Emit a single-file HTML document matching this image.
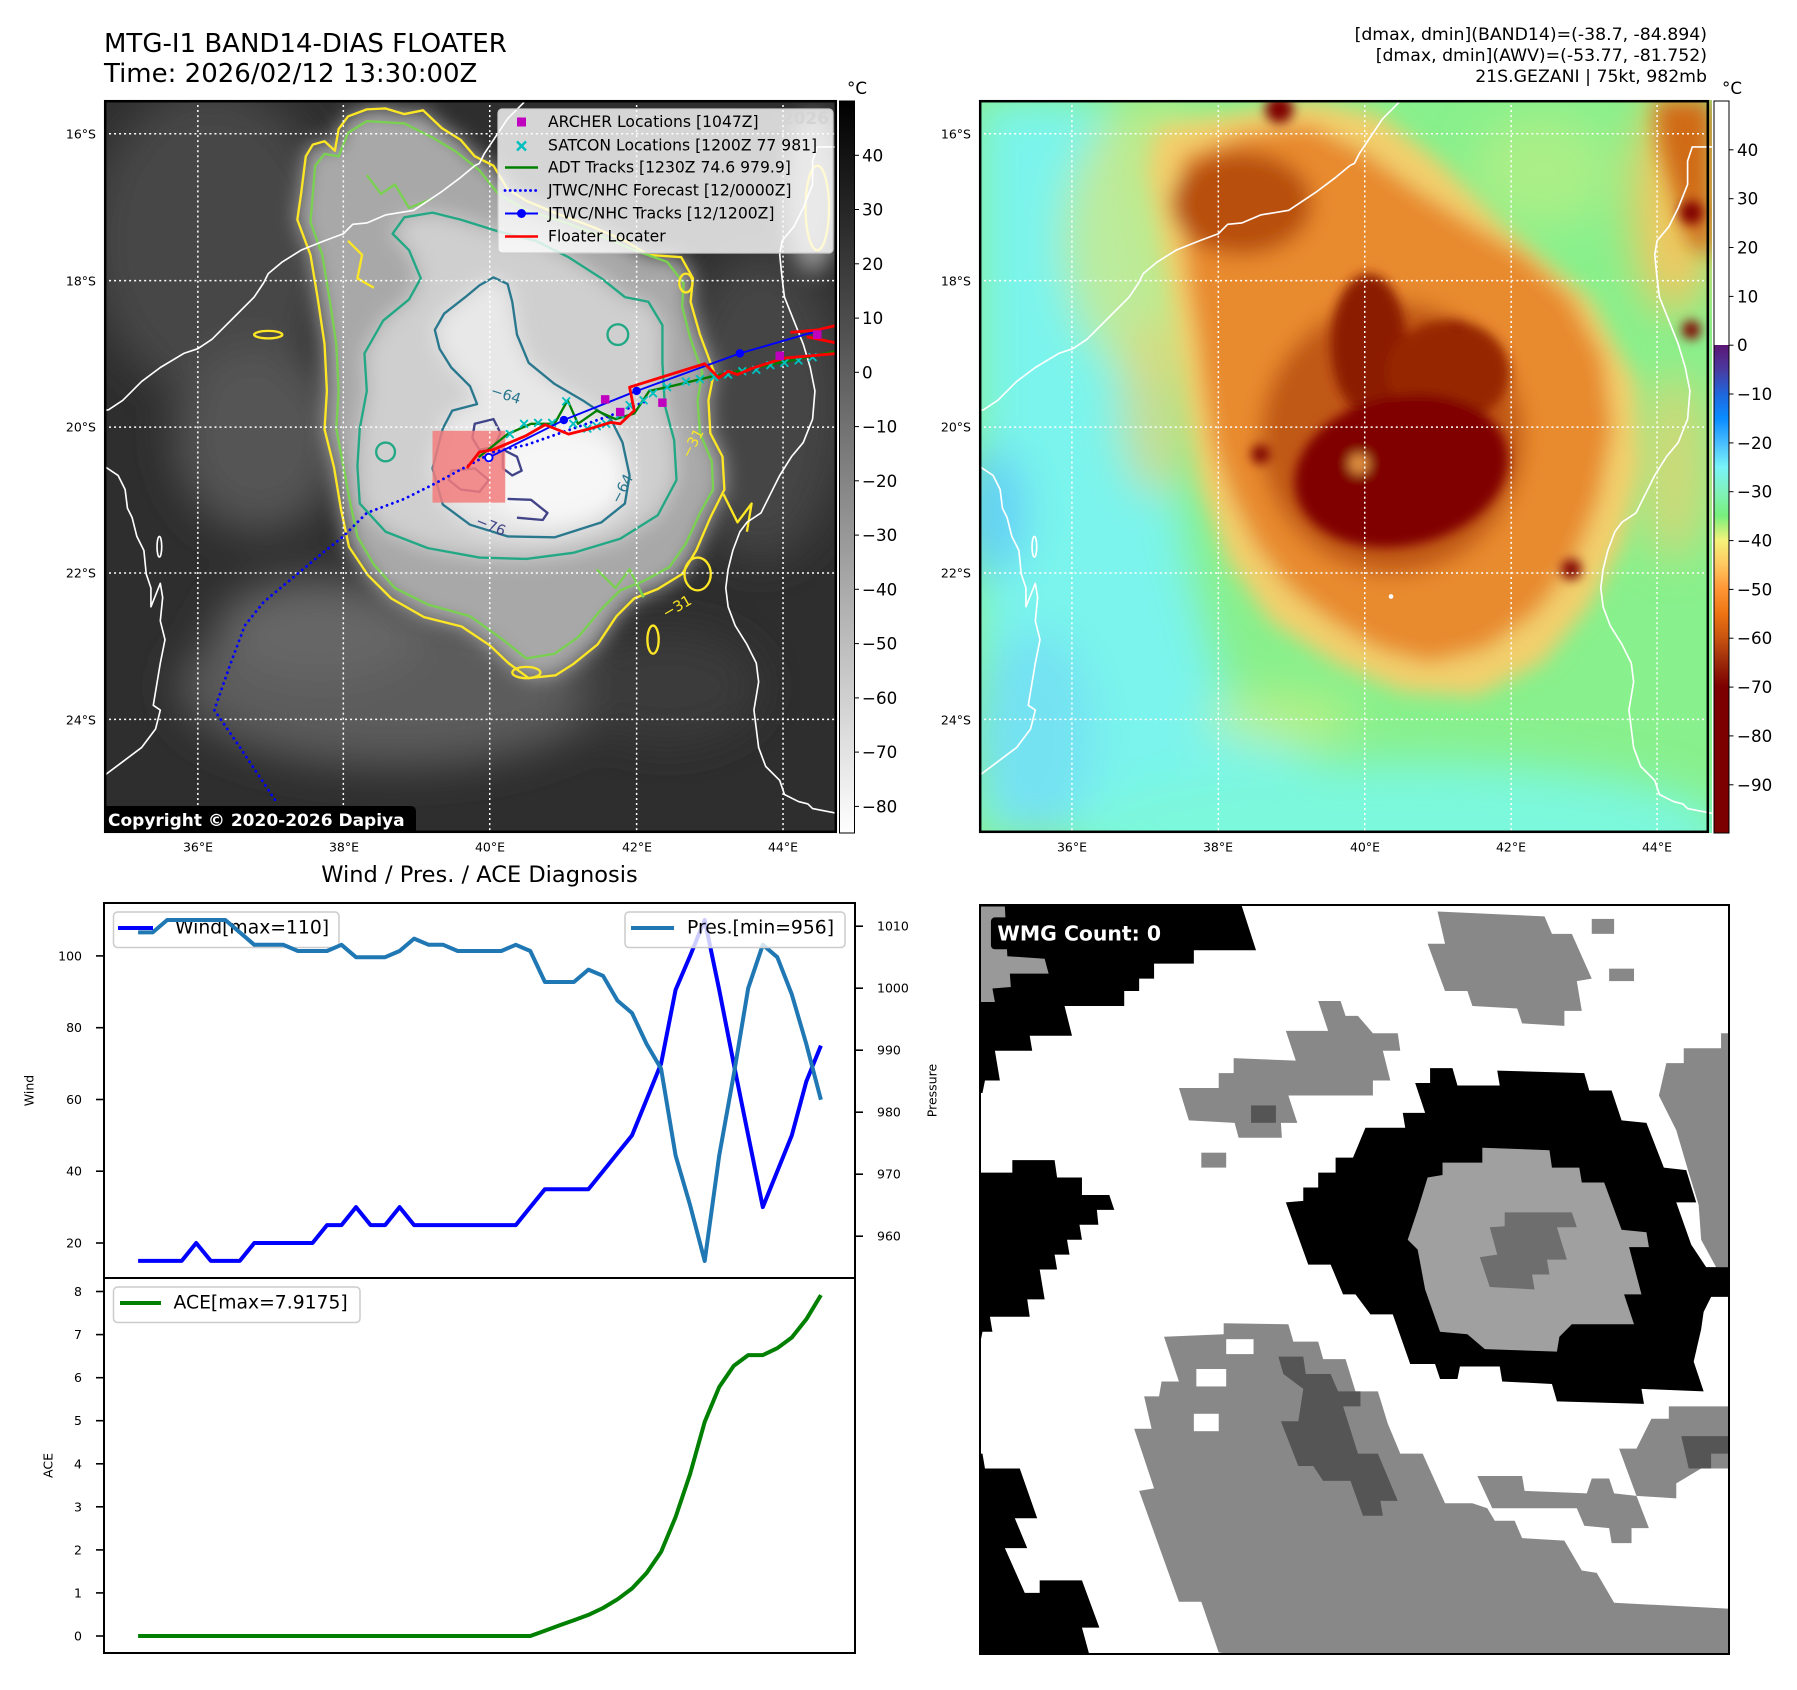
<!DOCTYPE html>
<html><head><meta charset="utf-8"><style>
html,body{margin:0;padding:0;background:#fff;}
svg{display:block;}
</style></head><body>
<svg width="1797" height="1690" viewBox="0 0 1797 1690" xmlns="http://www.w3.org/2000/svg" font-family="'DejaVu Sans','Liberation Sans',sans-serif">
<rect width="1797" height="1690" fill="#fff"/>

<!-- Titles -->
<text x="104" y="52" font-size="26">MTG-I1 BAND14-DIAS FLOATER</text>
<text x="104" y="82" font-size="26">Time: 2026/02/12 13:30:00Z</text>
<g font-size="17.3" text-anchor="end">
<text x="1707" y="40">[dmax, dmin](BAND14)=(-38.7, -84.894)</text>
<text x="1707" y="61">[dmax, dmin](AWV)=(-53.77, -81.752)</text>
<text x="1707" y="82">21S.GEZANI | 75kt, 982mb</text>
</g>

<!-- ================= LEFT MAP ================= -->
<svg x="104" y="100" width="733" height="733" viewBox="0 0 1562 1562" preserveAspectRatio="none">
<defs>
<filter id="fa" x="-50%" y="-50%" width="200%" height="200%"><feGaussianBlur stdDeviation="45"/></filter>
<filter id="fb" x="-50%" y="-50%" width="200%" height="200%"><feGaussianBlur stdDeviation="22"/></filter>
<filter id="fc" x="-50%" y="-50%" width="200%" height="200%"><feGaussianBlur stdDeviation="10"/></filter>
</defs>
<rect width="1562" height="1562" fill="#2e2e2e"/>
<g filter="url(#fa)">
<ellipse cx="230" cy="300" rx="260" ry="330" fill="#474747"/>
<ellipse cx="330" cy="720" rx="180" ry="200" fill="#555"/>
<ellipse cx="620" cy="1250" rx="460" ry="170" fill="#5c5c5c"/>
<ellipse cx="460" cy="1130" rx="220" ry="110" fill="#666"/>
<ellipse cx="1400" cy="650" rx="180" ry="330" fill="#444"/>
<ellipse cx="1200" cy="1250" rx="200" ry="120" fill="#3a3a3a"/>
</g>
<g filter="url(#fb)">
<polygon fill="#a8a8a8" points="430,120 445,95 470,88 492,108 500,62 520,35 560,20 600,18 640,30 680,22 720,60 760,85 790,120 830,140 860,190 900,215 960,240 1040,270 1110,300 1160,330 1230,335 1255,380 1250,430 1270,500 1300,580 1288,640 1292,710 1318,760 1322,830 1292,890 1262,960 1232,1010 1180,1042 1130,1062 1092,1100 1052,1160 1000,1202 962,1226 905,1232 862,1200 822,1162 762,1122 682,1102 612,1062 562,1012 522,952 505,872 490,782 470,702 475,620 470,520 455,420 440,330 412,255 420,200"/>
<polygon fill="#cfcfcf" points="540,780 545,860 600,920 690,955 800,975 900,978 1000,965 1100,935 1180,885 1220,810 1215,725 1195,650 1190,560 1190,480 1160,430 1110,420 1060,380 990,335 920,300 840,280 760,255 700,240 640,250 615,285 650,320 675,380 650,425 595,470 555,540 560,620 545,700"/>
<polygon fill="#e8e8e8" points="830,378 860,392 870,430 880,500 905,560 960,605 1020,640 1080,680 1105,730 1120,800 1110,860 1060,900 960,932 860,930 780,905 722,862 700,785 722,700 742,662 795,648 780,610 740,570 715,530 705,490 725,455 770,420 800,395"/>
<ellipse cx="960" cy="800" rx="150" ry="100" fill="#f7f7f7"/>
<ellipse cx="1510" cy="200" rx="60" ry="170" fill="#909090"/>
</g>
<!-- contours -->
<g fill="none" stroke-width="5" stroke-linejoin="round">
<polygon stroke="#fde725" points="430,120 445,95 470,88 492,108 500,62 520,35 560,20 600,18 640,30 680,22 720,60 760,85 790,120 830,140 860,190 900,215 960,240 1040,270 1110,300 1160,330 1230,335 1255,380 1250,430 1270,500 1300,580 1288,640 1292,710 1318,760 1322,830 1292,890 1262,960 1232,1010 1180,1042 1130,1062 1092,1100 1052,1160 1000,1202 962,1226 905,1232 862,1200 822,1162 762,1122 682,1102 612,1062 562,1012 522,952 505,872 490,782 470,702 475,620 470,520 455,420 440,330 412,255 420,200"/>
<polygon stroke="#7ad151" points="450,140 470,115 500,120 520,70 560,45 640,50 700,80 750,110 800,150 840,200 900,235 980,260 1060,290 1130,320 1200,345 1235,390 1232,440 1250,510 1275,580 1265,640 1270,710 1295,770 1298,830 1270,880 1240,945 1205,995 1150,1025 1100,1045 1060,1085 1010,1145 960,1180 900,1190 850,1150 780,1100 690,1075 620,1040 575,990 540,930 525,860 510,780 495,700 500,620 495,520 480,420 465,330 440,260 445,200"/>
<polygon stroke="#22a884" points="540,780 545,860 600,920 690,955 800,975 900,978 1000,965 1100,935 1180,885 1220,810 1215,725 1195,650 1190,560 1190,480 1160,430 1110,420 1060,380 990,335 920,300 840,280 760,255 700,240 640,250 615,285 650,320 675,380 650,425 595,470 555,540 560,620 545,700"/>
<polygon stroke="#2a788e" points="830,378 860,392 870,430 880,500 905,560 960,605 1020,640 1080,680 1105,730 1120,800 1110,860 1060,900 960,932 860,930 780,905 722,862 700,785 722,700 742,662 795,648 780,610 740,570 715,530 705,490 725,455 770,420 800,395"/>
<g stroke="#414487">
<polygon points="790,690 830,680 845,710 830,740 800,745 785,720"/>
<polygon points="740,790 790,785 820,810 800,835 760,830 735,810"/>
<polygon points="850,745 880,760 890,790 870,800 850,785"/>
<polyline points="860,850 910,852 945,880 935,895 880,890"/>
</g>
<circle cx="600" cy="750" r="20" stroke="#22a884"/>
<circle cx="1095" cy="500" r="22" stroke="#22a884"/>
<ellipse cx="1265" cy="1010" rx="28" ry="35" stroke="#fde725"/>
<ellipse cx="1520" cy="230" rx="25" ry="90" stroke="#fde725"/>
<ellipse cx="1240" cy="390" rx="14" ry="20" stroke="#fde725"/>
<ellipse cx="350" cy="500" rx="30" ry="8" stroke="#fde725"/>
<ellipse cx="900" cy="1220" rx="30" ry="12" stroke="#fde725"/>
<ellipse cx="1170" cy="1150" rx="12" ry="30" stroke="#fde725"/>
<polyline stroke="#fde725" points="1320,840 1350,900 1380,860 1370,920"/>
<polyline stroke="#7ad151" points="560,160 590,200 620,180 650,230 700,210"/>
<polyline stroke="#fde725" points="520,300 550,330 540,380 575,400"/>
<polyline stroke="#7ad151" points="1050,1000 1090,1040 1120,1000 1150,1060"/>
</g>
<g font-size="31">
<text x="822" y="628" fill="#2a788e" transform="rotate(18 822 628)">−64</text>
<text x="1098" y="862" fill="#2a788e" transform="rotate(-62 1098 862)">−64</text>
<text x="790" y="905" fill="#414487" transform="rotate(22 790 905)">−76</text>
<text x="1248" y="765" fill="#fde725" transform="rotate(-62 1248 765)">−31</text>
<text x="1198" y="1105" fill="#fde725" transform="rotate(-30 1198 1105)">−31</text>
</g>
<rect x="700" y="705" width="155" height="153" fill="#f27d7d" opacity="0.85"/>
<!-- coastlines -->
<g fill="none" stroke="#fff" stroke-width="3.5" stroke-linejoin="round">
<polyline points="895,5 860,40 840,70 810,115 800,135 790,140 760,165 720,195 690,215 660,235 600,245 560,262 530,265 510,285 470,300 420,320 380,345 350,370 340,390 320,420 280,460 250,490 230,510 200,530 170,540 120,570 80,600 40,640 10,660 0,662"/>
<polyline points="0,780 30,800 45,830 50,870 60,890 70,930 85,960 90,1010 100,1040 100,1080 120,1030 125,1060 120,1110 130,1150 120,1200 110,1260 105,1290 120,1300 110,1340 80,1380 40,1410 0,1440"/>
<polyline points="1562,100 1520,100 1510,130 1510,180 1490,230 1470,270 1445,300 1440,330 1445,380 1450,420 1470,470 1490,520 1505,570 1515,620 1510,680 1490,730 1465,760 1440,800 1420,840 1400,880 1370,900 1355,920 1340,960 1330,1000 1325,1040 1330,1080 1345,1120 1370,1160 1390,1200 1395,1240 1390,1270 1385,1300 1390,1340 1395,1380 1410,1420 1440,1450 1450,1480 1480,1495 1500,1500 1510,1510 1562,1520"/>
<ellipse cx="118" cy="952" rx="5" ry="22"/>
</g>
<!-- gridlines -->
<g stroke="#fff" stroke-width="3.2" stroke-dasharray="4.3 6.4">
<line x1="200" y1="0" x2="200" y2="1562"/><line x1="510" y1="0" x2="510" y2="1562"/><line x1="822" y1="0" x2="822" y2="1562"/><line x1="1135" y1="0" x2="1135" y2="1562"/><line x1="1447" y1="0" x2="1447" y2="1562"/>
<line x1="0" y1="72" x2="1562" y2="72"/><line x1="0" y1="385" x2="1562" y2="385"/><line x1="0" y1="697" x2="1562" y2="697"/><line x1="0" y1="1008" x2="1562" y2="1008"/><line x1="0" y1="1320" x2="1562" y2="1320"/>
</g>
<!-- tracks -->
<g fill="none" stroke-linecap="round" stroke-linejoin="round">
<polyline stroke="#0000ff" stroke-width="6" stroke-dasharray="0.1 12" points="830,750 700,820 640,850 560,880 510,930 460,970 400,1020 340,1070 300,1120 270,1200 235,1300 290,1380 370,1500"/>
<polyline stroke="#0000ff" stroke-width="6" stroke-dasharray="0.1 12" points="830,750 900,735 1000,700 1080,672 1160,640"/>
<polyline stroke="#008000" stroke-width="5" points="800,760 860,712 910,690 960,690 988,640 1010,690 1050,662 1090,680 1130,668 1162,620 1200,612 1300,588 1400,568 1562,535"/>
<path stroke="#00bfbf" stroke-width="4" d="M858,705l14,14M872,705l-14,14 M888,683l14,14M902,683l-14,14 M918,681l14,14M932,681l-14,14 M948,681l14,14M962,681l-14,14 M978,635l14,14M992,635l-14,14 M993,683l14,14M1007,683l-14,14 M1023,693l14,14M1037,693l-14,14 M1043,688l14,14M1057,688l-14,14 M1063,683l14,14M1077,683l-14,14 M1093,663l14,14M1107,663l-14,14 M1113,643l14,14M1127,643l-14,14 M1143,633l14,14M1157,633l-14,14 M1163,618l14,14M1177,618l-14,14 M1193,605l14,14M1207,605l-14,14 M1233,593l14,14M1247,593l-14,14 M1263,588l14,14M1277,588l-14,14 M1293,583l14,14M1307,583l-14,14 M1323,578l14,14M1337,578l-14,14 M1353,571l14,14M1367,571l-14,14 M1383,568l14,14M1397,568l-14,14 M1413,558l14,14M1427,558l-14,14 M1443,553l14,14M1457,553l-14,14 M1473,548l14,14M1487,548l-14,14 M1503,541l14,14M1517,541l-14,14"/>
<polyline stroke="#0000ff" stroke-width="4" points="820,762 980,682 1135,620 1355,540 1562,480"/>
<polyline stroke="#ff0000" stroke-width="6" points="775,782 800,750 830,745 900,715 940,692 990,712 1030,702 1080,687 1100,690 1130,662 1120,612 1280,562 1310,592 1330,578 1350,585 1380,572 1450,550 1562,540"/>
<polyline stroke="#ff0000" stroke-width="6" points="1465,495 1520,490 1562,480"/>
<polyline stroke="#ff0000" stroke-width="6" points="1500,505 1562,518"/>
</g>
<g fill="#0000ff"><circle cx="980" cy="682" r="9"/><circle cx="1135" cy="620" r="9"/><circle cx="1355" cy="540" r="9"/></g>
<circle cx="820" cy="762" r="8" fill="#fff" stroke="#0000ff" stroke-width="4"/>
<g fill="#bf00bf"><rect x="1059" y="629" width="18" height="18"/><rect x="1091" y="656" width="18" height="18"/><rect x="1181" y="636" width="18" height="18"/><rect x="1431" y="536" width="18" height="18"/><rect x="1511" y="491" width="18" height="18"/></g>
</svg>
<rect x="105.2" y="101.2" width="730.6" height="730.6" fill="none" stroke="#000" stroke-width="2.5"/>
<!-- copyright -->
<path d="M104,806 H410 Q416,806 416,812 V833 H104 Z" fill="#000"/>
<text x="108" y="826" font-size="17" font-weight="bold" fill="#fff">Copyright © 2020-2026 Dapiya</text>
<!-- map legend -->
<rect x="498" y="109" width="335" height="144" rx="4" fill="#fff" fill-opacity="0.8" stroke="#cccccc" stroke-width="1.2"/>
<text x="829" y="124" font-size="17" font-weight="bold" fill="#d4d4d4" text-anchor="end">© EUMETSAT 2026</text>
<rect x="517" y="117.5" width="9" height="9" fill="#bf00bf"/>
<path d="M517,141.5l9,9M526,141.5l-9,9" stroke="#00bfbf" stroke-width="2.5"/>
<line x1="505" y1="167.5" x2="538" y2="167.5" stroke="#008000" stroke-width="2.5"/>
<line x1="505" y1="190.5" x2="538" y2="190.5" stroke="#0000ff" stroke-width="2.8" stroke-dasharray="0.1 5" stroke-linecap="round"/>
<line x1="505" y1="213.5" x2="538" y2="213.5" stroke="#0000ff" stroke-width="2"/>
<circle cx="521.5" cy="213.5" r="4.5" fill="#0000ff"/>
<line x1="505" y1="236.5" x2="538" y2="236.5" stroke="#ff0000" stroke-width="2.5"/>
<g font-size="15.6" dominant-baseline="central">
<text x="548" y="122">ARCHER Locations [1047Z]</text>
<text x="548" y="145.5">SATCON Locations [1200Z 77 981]</text>
<text x="548" y="167.5">ADT Tracks [1230Z 74.6 979.9]</text>
<text x="548" y="190.5">JTWC/NHC Forecast [12/0000Z]</text>
<text x="548" y="213.5">JTWC/NHC Tracks [12/1200Z]</text>
<text x="548" y="236.5">Floater Locater</text>
</g>
<!-- map tick labels -->
<g font-size="12.5" text-anchor="end" dominant-baseline="central">
<text x="96" y="134">16°S</text><text x="96" y="281">18°S</text><text x="96" y="427">20°S</text><text x="96" y="573">22°S</text><text x="96" y="720">24°S</text>
<text x="971" y="134">16°S</text><text x="971" y="281">18°S</text><text x="971" y="427">20°S</text><text x="971" y="573">22°S</text><text x="971" y="720">24°S</text>
</g>
<g font-size="12.5" text-anchor="middle" dominant-baseline="central">
<text x="198" y="847">36°E</text><text x="344" y="847">38°E</text><text x="490" y="847">40°E</text><text x="637" y="847">42°E</text><text x="783" y="847">44°E</text>
<text x="1072" y="847">36°E</text><text x="1218" y="847">38°E</text><text x="1365" y="847">40°E</text><text x="1511" y="847">42°E</text><text x="1657" y="847">44°E</text>
</g>

<!-- colorbar 1 -->
<defs>
<linearGradient id="cg1" x1="0" y1="0" x2="0" y2="1"><stop offset="0" stop-color="#000"/><stop offset="1" stop-color="#fff"/></linearGradient>
<linearGradient id="cg2" x1="0" y1="0" x2="0" y2="1">
<stop offset="0" stop-color="#fff"/><stop offset="0.333" stop-color="#fff"/>
<stop offset="0.3334" stop-color="#5c1674"/><stop offset="0.3667" stop-color="#4a3aa0"/>
<stop offset="0.4" stop-color="#2066dc"/><stop offset="0.4333" stop-color="#0a8cff"/>
<stop offset="0.4667" stop-color="#48bcff"/><stop offset="0.5" stop-color="#78f4f8"/>
<stop offset="0.5333" stop-color="#80f2bc"/><stop offset="0.5667" stop-color="#78f07c"/>
<stop offset="0.6" stop-color="#f4f27a"/><stop offset="0.6333" stop-color="#ffc860"/>
<stop offset="0.6667" stop-color="#ff9636"/><stop offset="0.7" stop-color="#ee7412"/>
<stop offset="0.7333" stop-color="#c85410"/><stop offset="0.7667" stop-color="#9c2a0a"/>
<stop offset="0.8" stop-color="#7c0000"/><stop offset="1" stop-color="#7c0000"/>
</linearGradient>
</defs>
<rect x="839.5" y="101" width="15" height="732" fill="url(#cg1)" stroke="#000" stroke-width="1"/>
<text x="857" y="94" font-size="16.7" text-anchor="middle">°C</text>
<g stroke="#000" stroke-width="1">
<line x1="854.5" x2="859" y1="155.3" y2="155.3"/><line x1="854.5" x2="859" y1="209.5" y2="209.5"/><line x1="854.5" x2="859" y1="263.8" y2="263.8"/><line x1="854.5" x2="859" y1="318.1" y2="318.1"/><line x1="854.5" x2="859" y1="372.3" y2="372.3"/><line x1="854.5" x2="859" y1="426.6" y2="426.6"/><line x1="854.5" x2="859" y1="480.8" y2="480.8"/><line x1="854.5" x2="859" y1="535.1" y2="535.1"/><line x1="854.5" x2="859" y1="589.3" y2="589.3"/><line x1="854.5" x2="859" y1="643.6" y2="643.6"/><line x1="854.5" x2="859" y1="697.9" y2="697.9"/><line x1="854.5" x2="859" y1="752.1" y2="752.1"/><line x1="854.5" x2="859" y1="806.4" y2="806.4"/>
</g>
<g font-size="16.7" dominant-baseline="central">
<text x="862" y="155.3">40</text><text x="862" y="209.5">30</text><text x="862" y="263.8">20</text><text x="862" y="318.1">10</text><text x="862" y="372.3">0</text><text x="862" y="426.6">−10</text><text x="862" y="480.8">−20</text><text x="862" y="535.1">−30</text><text x="862" y="589.3">−40</text><text x="862" y="643.6">−50</text><text x="862" y="697.9">−60</text><text x="862" y="752.1">−70</text><text x="862" y="806.4">−80</text>
</g>

<!-- ================= RIGHT MAP ================= -->
<svg x="979" y="100" width="733" height="733" viewBox="0 0 1562 1562" preserveAspectRatio="none">
<defs>
<filter id="ra" x="-50%" y="-50%" width="200%" height="200%"><feGaussianBlur stdDeviation="45"/></filter>
<filter id="rb" x="-50%" y="-50%" width="200%" height="200%"><feGaussianBlur stdDeviation="22"/></filter>
<filter id="rc" x="-50%" y="-50%" width="200%" height="200%"><feGaussianBlur stdDeviation="12"/></filter>
</defs>
<rect width="1562" height="1562" fill="#88f08c"/>
<g filter="url(#ra)">
<polygon fill="#7af4ec" points="0,0 260,0 320,200 360,400 400,700 450,1000 520,1250 700,1400 900,1480 1100,1562 0,1562"/>
<ellipse cx="900" cy="1560" rx="700" ry="150" fill="#7cf8dc"/>
<ellipse cx="30" cy="880" rx="70" ry="140" fill="#64d0f6"/>
<ellipse cx="120" cy="1350" rx="130" ry="220" fill="#74e2f2"/>
<ellipse cx="380" cy="300" rx="200" ry="300" fill="#cce88a" opacity="0.8"/>
<ellipse cx="1200" cy="150" rx="150" ry="120" fill="#b8ee84" opacity="0.7"/>
<ellipse cx="1480" cy="220" rx="90" ry="240" fill="#f0c860"/>
<ellipse cx="1480" cy="780" rx="80" ry="200" fill="#e8d070" opacity="0.7"/>
<ellipse cx="640" cy="1320" rx="160" ry="60" fill="#d0f080" opacity="0.6"/>
<ellipse cx="380" cy="650" rx="80" ry="190" fill="#e0d478" opacity="0.7"/>
</g>
<g filter="url(#rb)">
<polygon fill="#f2cf6c" points="380,60 700,0 850,30 980,130 1120,270 1300,420 1400,600 1410,780 1370,950 1300,1080 1200,1200 1060,1270 900,1260 760,1200 620,1110 530,980 470,820 440,650 420,480 390,300 360,150"/>
<polygon fill="#e88a2e" points="430,120 560,70 700,50 820,110 930,190 1040,260 1160,330 1260,420 1330,550 1350,700 1320,850 1270,980 1190,1090 1080,1170 960,1200 850,1170 750,1110 660,1040 590,950 540,850 500,740 480,620 465,500 445,380 430,250"/>
<ellipse cx="880" cy="720" rx="280" ry="290" fill="#c05814"/>
<ellipse cx="560" cy="220" rx="150" ry="110" fill="#b85010"/>
<polygon fill="#d06a18" points="1440,0 1562,0 1562,340 1510,300 1480,200 1450,100"/>
</g>
<g filter="url(#rc)">
<ellipse cx="830" cy="520" rx="80" ry="150" fill="#8c1a00"/>
<ellipse cx="1000" cy="580" rx="130" ry="110" fill="#962600"/>
<ellipse cx="900" cy="790" rx="230" ry="160" fill="#800000" transform="rotate(-12 900 790)"/>
<circle cx="810" cy="775" r="22" fill="#e09040"/>
<circle cx="600" cy="755" r="20" fill="#7a0000"/>
<circle cx="1020" cy="480" r="10" fill="#8a1000"/>
<circle cx="1262" cy="1000" r="22" fill="#800000"/>
<circle cx="1518" cy="240" r="25" fill="#800000"/>
<circle cx="1518" cy="490" r="20" fill="#800000"/>
<circle cx="640" cy="20" r="30" fill="#800000"/>
</g>
<circle cx="878" cy="1058" r="5" fill="#fff"/>
<g fill="none" stroke="#fff" stroke-width="3.5" stroke-linejoin="round">
<polyline points="895,5 860,40 840,70 810,115 800,135 790,140 760,165 720,195 690,215 660,235 600,245 560,262 530,265 510,285 470,300 420,320 380,345 350,370 340,390 320,420 280,460 250,490 230,510 200,530 170,540 120,570 80,600 40,640 10,660 0,662"/>
<polyline points="0,780 30,800 45,830 50,870 60,890 70,930 85,960 90,1010 100,1040 100,1080 120,1030 125,1060 120,1110 130,1150 120,1200 110,1260 105,1290 120,1300 110,1340 80,1380 40,1410 0,1440"/>
<polyline points="1562,100 1520,100 1510,130 1510,180 1490,230 1470,270 1445,300 1440,330 1445,380 1450,420 1470,470 1490,520 1505,570 1515,620 1510,680 1490,730 1465,760 1440,800 1420,840 1400,880 1370,900 1355,920 1340,960 1330,1000 1325,1040 1330,1080 1345,1120 1370,1160 1390,1200 1395,1240 1390,1270 1385,1300 1390,1340 1395,1380 1410,1420 1440,1450 1450,1480 1480,1495 1500,1500 1510,1510 1562,1520"/>
<ellipse cx="118" cy="952" rx="5" ry="22"/>
</g>
<g stroke="#fff" stroke-width="3.2" stroke-dasharray="4.3 6.4">
<line x1="198" y1="0" x2="198" y2="1562"/><line x1="510" y1="0" x2="510" y2="1562"/><line x1="822" y1="0" x2="822" y2="1562"/><line x1="1134" y1="0" x2="1134" y2="1562"/><line x1="1445" y1="0" x2="1445" y2="1562"/>
<line x1="0" y1="72" x2="1562" y2="72"/><line x1="0" y1="385" x2="1562" y2="385"/><line x1="0" y1="697" x2="1562" y2="697"/><line x1="0" y1="1008" x2="1562" y2="1008"/><line x1="0" y1="1320" x2="1562" y2="1320"/>
</g>
</svg>
<rect x="980.2" y="101.2" width="727.6" height="730.6" fill="none" stroke="#000" stroke-width="2.5"/>

<!-- colorbar 2 -->
<rect x="1714" y="101" width="15" height="732" fill="url(#cg2)" stroke="#000" stroke-width="1"/>
<text x="1732" y="94" font-size="16.7" text-anchor="middle">°C</text>
<g stroke="#000" stroke-width="1">
<line x1="1729" x2="1733.5" y1="149.8" y2="149.8"/><line x1="1729" x2="1733.5" y1="198.7" y2="198.7"/><line x1="1729" x2="1733.5" y1="247.5" y2="247.5"/><line x1="1729" x2="1733.5" y1="296.4" y2="296.4"/><line x1="1729" x2="1733.5" y1="345.2" y2="345.2"/><line x1="1729" x2="1733.5" y1="394" y2="394"/><line x1="1729" x2="1733.5" y1="442.9" y2="442.9"/><line x1="1729" x2="1733.5" y1="491.7" y2="491.7"/><line x1="1729" x2="1733.5" y1="540.6" y2="540.6"/><line x1="1729" x2="1733.5" y1="589.4" y2="589.4"/><line x1="1729" x2="1733.5" y1="638.2" y2="638.2"/><line x1="1729" x2="1733.5" y1="687.1" y2="687.1"/><line x1="1729" x2="1733.5" y1="735.9" y2="735.9"/><line x1="1729" x2="1733.5" y1="784.8" y2="784.8"/>
</g>
<g font-size="16.7" dominant-baseline="central">
<text x="1737" y="149.8">40</text><text x="1737" y="198.7">30</text><text x="1737" y="247.5">20</text><text x="1737" y="296.4">10</text><text x="1737" y="345.2">0</text><text x="1737" y="394">−10</text><text x="1737" y="442.9">−20</text><text x="1737" y="491.7">−30</text><text x="1737" y="540.6">−40</text><text x="1737" y="589.4">−50</text><text x="1737" y="638.2">−60</text><text x="1737" y="687.1">−70</text><text x="1737" y="735.9">−80</text><text x="1737" y="784.8">−90</text>
</g>

<!-- ================= WIND / PRES / ACE ================= -->
<text x="479.5" y="882" font-size="22.5" text-anchor="middle">Wind / Pres. / ACE Diagnosis</text>
<polyline fill="none" stroke="#0000ff" stroke-width="4" stroke-linejoin="round" points="138.1,1260.9 152.7,1260.9 167.2,1260.9 181.7,1260.9 196.2,1243.0 210.8,1260.9 225.3,1260.9 239.8,1260.9 254.3,1243.0 268.9,1243.0 283.4,1243.0 297.9,1243.0 312.5,1243.0 327.0,1225.1 341.5,1225.1 356.0,1207.1 370.6,1225.1 385.1,1225.1 399.6,1207.1 414.1,1225.1 428.7,1225.1 443.2,1225.1 457.7,1225.1 472.2,1225.1 486.8,1225.1 501.3,1225.1 515.8,1225.1 530.3,1207.1 544.9,1189.2 559.4,1189.2 573.9,1189.2 588.4,1189.2 603.0,1171.2 617.5,1153.3 632.0,1135.4 646.6,1099.5 661.1,1063.6 675.6,989.8 690.1,955.9 704.7,920.0 719.2,989.8 733.7,1063.6 748.2,1135.4 762.8,1207.1 777.3,1171.2 791.8,1135.4 806.3,1081.5 820.9,1045.6"/>
<rect x="113.5" y="912" width="225.5" height="35.5" rx="4" fill="#fff" fill-opacity="0.8" stroke="#cccccc" stroke-width="1.5"/>
<line x1="118" y1="928" x2="153" y2="928" stroke="#0000ff" stroke-width="4"/>
<text x="175" y="928" font-size="18.75" dominant-baseline="central">Wind[max=110]</text>
<polyline fill="none" stroke="#1f77b4" stroke-width="4" stroke-linejoin="round" points="138.1,932.4 152.7,932.4 167.2,920.0 181.7,920.0 196.2,920.0 210.8,920.0 225.3,920.0 239.8,932.4 254.3,944.8 268.9,944.8 283.4,944.8 297.9,951.0 312.5,951.0 327.0,951.0 341.5,944.8 356.0,957.2 370.6,957.2 385.1,957.2 399.6,951.0 414.1,938.6 428.7,944.8 443.2,944.8 457.7,951.0 472.2,951.0 486.8,951.0 501.3,951.0 515.8,944.8 530.3,951.0 544.9,982.0 559.4,982.0 573.9,982.0 588.4,969.6 603.0,975.8 617.5,1000.6 632.0,1013.0 646.6,1044.0 661.1,1068.8 675.6,1155.6 690.1,1205.2 704.7,1261.0 719.2,1155.6 733.7,1075.0 748.2,988.2 762.8,944.8 777.3,957.2 791.8,994.4 806.3,1044.0 820.9,1099.8"/>
<rect x="625" y="912" width="220" height="35.5" rx="4" fill="#fff" fill-opacity="0.8" stroke="#cccccc" stroke-width="1.5"/>
<line x1="631" y1="928" x2="674" y2="928" stroke="#1f77b4" stroke-width="4"/>
<text x="687" y="928" font-size="18.75" dominant-baseline="central">Pres.[min=956]</text>
<rect x="104" y="903" width="751" height="375" fill="none" stroke="#000" stroke-width="2"/>
<g stroke="#000" stroke-width="1.6">
<line x1="96" x2="104" y1="1243" y2="1243"/><line x1="96" x2="104" y1="1171.2" y2="1171.2"/><line x1="96" x2="104" y1="1099.5" y2="1099.5"/><line x1="96" x2="104" y1="1027.7" y2="1027.7"/><line x1="96" x2="104" y1="955.9" y2="955.9"/>
<line x1="855" x2="863" y1="926.2" y2="926.2"/><line x1="855" x2="863" y1="988.2" y2="988.2"/><line x1="855" x2="863" y1="1050.2" y2="1050.2"/><line x1="855" x2="863" y1="1112.2" y2="1112.2"/><line x1="855" x2="863" y1="1174.2" y2="1174.2"/><line x1="855" x2="863" y1="1236.2" y2="1236.2"/>
</g>
<g font-size="12.5" dominant-baseline="central" text-anchor="end">
<text x="82" y="1243">20</text><text x="82" y="1171.2">40</text><text x="82" y="1099.5">60</text><text x="82" y="1027.7">80</text><text x="82" y="955.9">100</text>
</g>
<g font-size="12.5" dominant-baseline="central">
<text x="877" y="926.2">1010</text><text x="877" y="988.2">1000</text><text x="877" y="1050.2">990</text><text x="877" y="1112.2">980</text><text x="877" y="1174.2">970</text><text x="877" y="1236.2">960</text>
</g>
<text x="29" y="1090.5" font-size="12.5" text-anchor="middle" dominant-baseline="central" transform="rotate(-90 29 1090.5)">Wind</text>
<text x="932" y="1090.5" font-size="12.5" text-anchor="middle" dominant-baseline="central" transform="rotate(-90 932 1090.5)">Pressure</text>

<!-- ACE -->
<polyline fill="none" stroke="#008000" stroke-width="4" stroke-linejoin="round" points="138.1,1636 530.3,1636 544.9,1630.7 559.4,1625.4 573.9,1620.2 588.4,1614.9 603.0,1608.0 617.5,1599.3 632.0,1588.5 646.6,1573.0 661.1,1551.9 675.6,1517.0 690.1,1474.0 704.7,1421.9 719.2,1387.0 733.7,1365.9 748.2,1355.1 762.8,1355.1 777.3,1348.2 791.8,1337.5 806.3,1319.3 820.9,1295.1"/>
<rect x="113.5" y="1287" width="246.5" height="35.5" rx="4" fill="#fff" fill-opacity="0.8" stroke="#cccccc" stroke-width="1.5"/>
<line x1="120" y1="1303" x2="161" y2="1303" stroke="#008000" stroke-width="4"/>
<text x="173.5" y="1303" font-size="18.75" dominant-baseline="central">ACE[max=7.9175]</text>
<rect x="104" y="1278" width="751" height="375" fill="none" stroke="#000" stroke-width="2"/>
<g stroke="#000" stroke-width="1.6">
<line x1="96" x2="104" y1="1636" y2="1636"/><line x1="96" x2="104" y1="1592.9" y2="1592.9"/><line x1="96" x2="104" y1="1549.9" y2="1549.9"/><line x1="96" x2="104" y1="1506.8" y2="1506.8"/><line x1="96" x2="104" y1="1463.8" y2="1463.8"/><line x1="96" x2="104" y1="1420.7" y2="1420.7"/><line x1="96" x2="104" y1="1377.7" y2="1377.7"/><line x1="96" x2="104" y1="1334.6" y2="1334.6"/><line x1="96" x2="104" y1="1291.5" y2="1291.5"/>
</g>
<g font-size="12.5" dominant-baseline="central" text-anchor="end">
<text x="82" y="1636">0</text><text x="82" y="1592.9">1</text><text x="82" y="1549.9">2</text><text x="82" y="1506.8">3</text><text x="82" y="1463.8">4</text><text x="82" y="1420.7">5</text><text x="82" y="1377.7">6</text><text x="82" y="1334.6">7</text><text x="82" y="1291.5">8</text>
</g>
<text x="48" y="1465.5" font-size="12.5" text-anchor="middle" dominant-baseline="central" transform="rotate(-90 48 1465.5)">ACE</text>

<!-- ================= WMG PANEL ================= -->
<svg x="979" y="904" width="751" height="751" viewBox="8 15 1510 1510" preserveAspectRatio="none">
<rect x="8" y="15" width="1510" height="1510" fill="#fff"/>
<g fill="#888">
<polygon points="930,30 1145,40 1160,75 1200,75 1240,165 1210,170 1220,230 1185,230 1185,260 1100,255 1090,225 1000,220 990,190 945,190 910,95 945,95"/>
<rect x="1240" y="45" width="45" height="30"/>
<rect x="1275" y="145" width="50" height="25"/>
<polygon points="690,210 735,210 745,240 770,240 800,275 850,275 855,310 820,310 835,370 800,370 800,400 630,400 648,455 615,455 617,485 530,485 522,455 430,450 410,385 490,385 490,355 520,355 520,325 645,330 625,270 710,270"/>
<rect x="455" y="515" width="50" height="30"/>
<polygon points="380,885 500,880 500,858 630,860 640,895 690,895 700,930 745,930 765,995 810,995 830,1060 855,1120 900,1120 945,1220 1000,1220 1030,1230 1045,1255 1085,1255 1100,1290 1185,1295 1220,1355 1250,1360 1285,1420 1518,1432 1518,1525 530,1525 490,1520 455,1418 410,1418 330,1195 360,1190 320,1070 355,1070 340,1005 370,1005 375,975 410,975"/>
<polygon points="1010,1165 1100,1165 1105,1195 1230,1200 1240,1170 1275,1170 1285,1200 1330,1205 1355,1270 1320,1270 1320,1300 1280,1300 1275,1270 1225,1265 1210,1230 1040,1230"/>
<polygon points="1295,1110 1330,1110 1360,1050 1395,1050 1395,1025 1518,1025 1518,1150 1460,1150 1410,1180 1410,1210 1330,1205"/>
<polygon points="1500,275 1518,275 1518,745 1490,745 1460,690 1455,620 1435,555 1410,470 1375,400 1390,335 1425,335 1425,305 1500,305"/>
</g>
<g fill="#fff">
<rect x="440" y="1040" width="50" height="35"/>
<rect x="445" y="950" width="60" height="35"/>
<rect x="505" y="890" width="55" height="30"/>
</g>
<g fill="#555">
<rect x="555" y="420" width="50" height="35"/>
<polygon points="610,925 660,925 665,960 715,960 730,995 775,995 775,1025 740,1025 770,1120 810,1120 850,1215 815,1215 820,1245 780,1245 755,1175 700,1175 680,1145 650,1145 615,1055 650,1055 660,990 620,960"/>
<polygon points="1420,1085 1518,1085 1518,1120 1480,1120 1480,1150 1435,1150"/>
</g>
<g fill="#000">
<polygon points="8,15 535,15 565,108 440,108 440,135 360,135 360,165 330,165 330,190 300,190 300,220 180,220 195,280 110,280 115,310 40,310 50,370 20,370 15,395 8,395"/>
<polygon points="8,555 75,555 75,530 160,530 165,565 215,565 215,600 270,600 280,630 245,630 248,660 210,660 215,690 185,690 190,720 160,720 165,750 130,750 140,810 105,810 110,845 30,845 35,875 15,875 10,900 8,900"/>
<polygon points="8,1120 15,1120 20,1150 90,1150 125,1250 80,1250 105,1310 60,1310 100,1400 130,1400 130,1375 215,1375 250,1470 215,1470 230,1525 8,1525"/>
<polygon points="625,615 660,612 660,585 690,585 690,555 725,555 725,525 760,525 785,465 865,465 860,435 905,435 885,375 915,375 915,345 960,345 970,380 1055,380 1050,350 1225,355 1235,390 1280,390 1300,450 1350,455 1385,545 1430,550 1450,615 1410,615 1440,700 1470,745 1518,745 1518,805 1480,805 1465,835 1460,870 1445,935 1465,995 1340,990 1345,1020 1170,1015 1160,980 1060,975 1055,945 975,945 970,970 935,970 925,940 875,940 840,840 795,840 765,800 740,800 715,740 670,740"/>
</g>
<polygon fill="#a0a0a0" points="910,565 940,560 940,535 1020,535 1020,505 1155,510 1160,545 1215,545 1220,575 1265,575 1300,670 1350,675 1355,705 1315,705 1340,800 1305,800 1325,860 1200,860 1175,885 1170,915 1025,910 990,880 935,875 905,790 890,710 870,690 890,630"/>
<polygon fill="#6e6e6e" points="1065,635 1200,635 1210,665 1170,665 1190,730 1150,730 1155,760 1120,760 1125,790 1035,785 1015,725 1050,720 1035,665 1065,663"/>
<polygon fill="#999" points="10,20 60,20 65,120 140,125 148,155 70,155 72,182 35,185 40,212 12,212"/>
<rect x="32" y="42" width="362" height="64" rx="8" fill="#000"/>
<text x="45" y="88" font-size="41" font-weight="bold" fill="#fff">WMG Count: 0</text>
</svg>
<rect x="980" y="905" width="749" height="749" fill="none" stroke="#000" stroke-width="2"/>
</svg>
</body></html>
